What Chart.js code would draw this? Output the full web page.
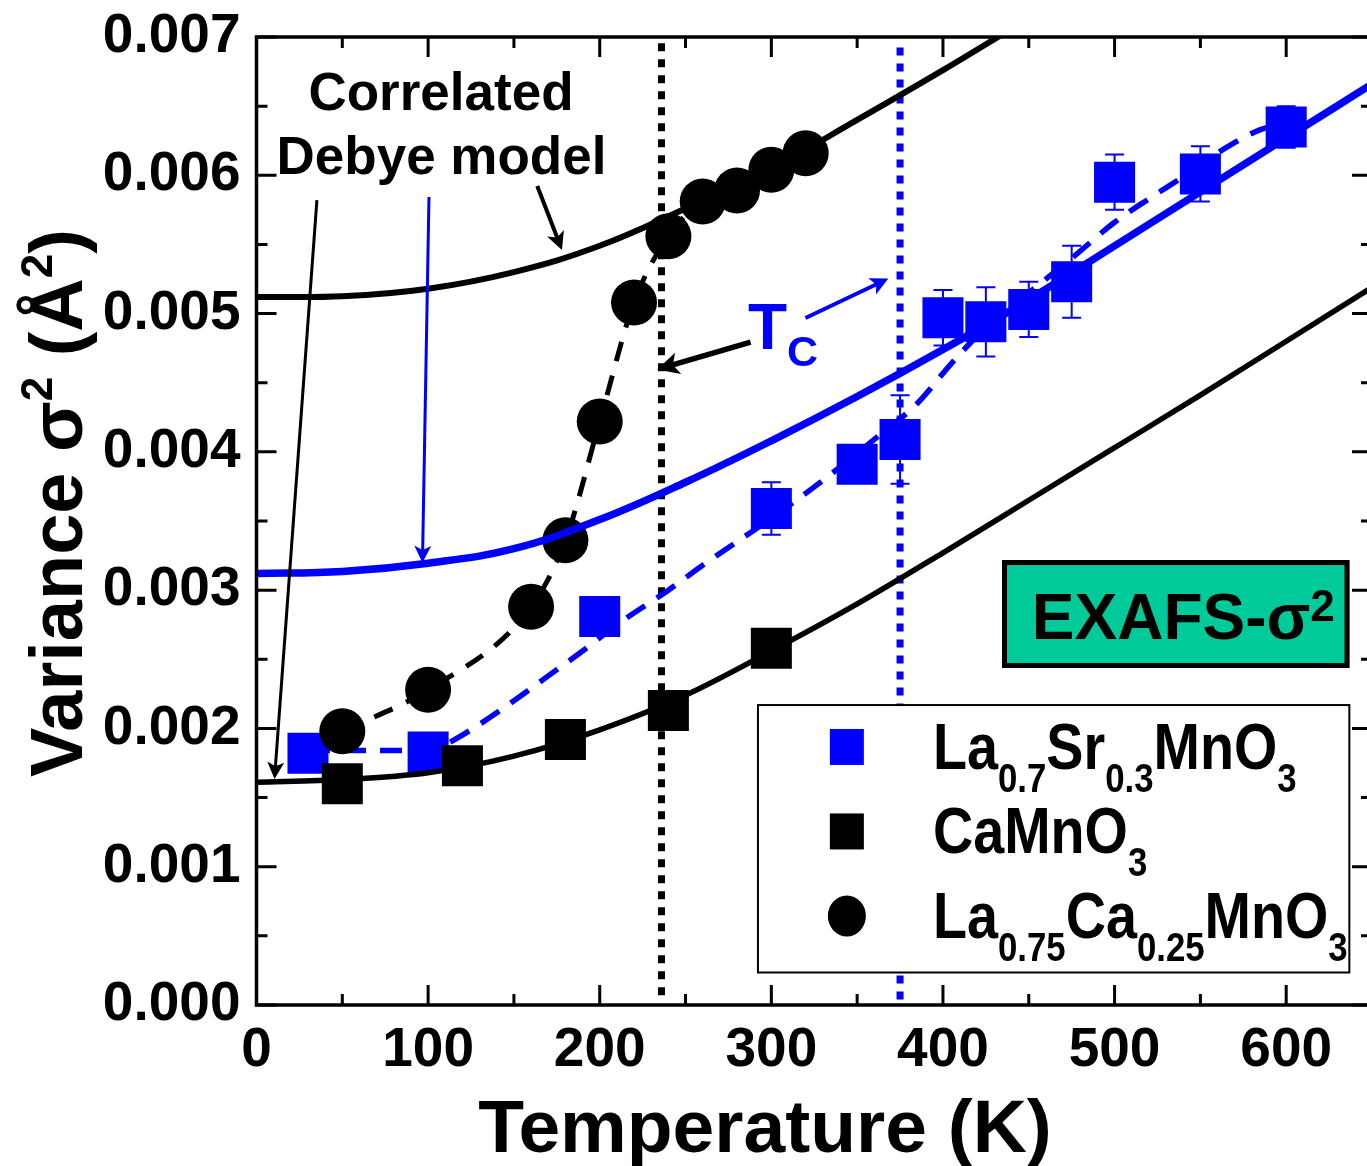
<!DOCTYPE html>
<html lang="en">
<head>
<meta charset="UTF-8">
<title>EXAFS variance vs temperature</title>
<script src="https://cdn.jsdelivr.net/npm/chart.js"></script>
<style>
  html, body { margin: 0; padding: 0; background: #fff; }
  #wrap { width: 1367px; height: 1166px; }
</style>
</head>
<body>
<div id="wrap"><canvas id="sigmaChart" width="1367" height="1166"></canvas></div>
<script>
// La0.7Sr0.3MnO3 : blue squares with error bars
const lsmoTemp  = [30, 100, 200, 300, 350, 375, 400, 425, 450, 475, 500, 550, 600];
const lsmoSigma = [0.00182, 0.00183, 0.00281, 0.00359, 0.00391, 0.00409, 0.00497, 0.00494, 0.00503, 0.00523, 0.00595, 0.00601, 0.00635];
const lsmoErr   = [0.0001, 0.0001, 0.0001, 0.00019, 0.00012, 0.00032, 0.0002, 0.00025, 0.0002, 0.00026, 0.0002, 0.0002, 0.00015];

// CaMnO3 : black squares
const cmoTemp  = [50, 120, 180, 240, 300];
const cmoSigma = [0.0016, 0.00173, 0.00192, 0.00213, 0.00258];

// La0.75Ca0.25MnO3 : black circles
const lcmoTemp  = [50, 100, 160, 180, 200, 220, 240, 260, 280, 300, 320];
const lcmoSigma = [0.00198, 0.00228, 0.00288, 0.00336, 0.00422, 0.00508, 0.00556, 0.00581, 0.00589, 0.00604, 0.00616];

// correlated Debye model curves
const fitTemp     = [0, 50, 100, 150, 200, 250, 300, 350, 400, 450, 500, 550, 600, 650];
const lsmoFit     = [0.00312, 0.003135, 0.003195, 0.0033, 0.00351, 0.00378, 0.00408, 0.0044, 0.00474, 0.0051, 0.00549, 0.00588, 0.00627, 0.00666];
const cmoFit      = [0.00161, 0.00163, 0.00168, 0.0018, 0.00199, 0.00224, 0.00256, 0.0029, 0.00327, 0.00365, 0.00403, 0.00441, 0.0048, 0.00519];
const lcmoFitTemp = [0, 50, 100, 150, 200, 250, 300, 350, 400, 440];
const lcmoFit     = [0.00512, 0.005125, 0.00518, 0.0053, 0.00549, 0.00576, 0.00605, 0.0064, 0.00676, 0.00706];

// dashed guide to the eye through the LSMO points
const guideTemp  = [30, 100, 111, 130, 150, 170, 190, 210, 240, 260, 280, 300, 320, 340, 360, 385, 405, 425, 450, 475, 500, 520, 540, 565, 585, 600];
const guideSigma = [0.00184, 0.00184, 0.00189, 0.00203, 0.0022, 0.00238, 0.00256, 0.00275, 0.003, 0.00318, 0.00335, 0.00352, 0.0037, 0.00389, 0.00409, 0.00435, 0.00464, 0.0049, 0.00515, 0.0054, 0.00566, 0.00583, 0.00599, 0.0062, 0.00633, 0.00638];

// Curie temperatures (dotted verticals)
const tcLcmo = 236;
const tcLsmo = 375;
const tcLcmoSpan = [0.00007, 0.00696];
const tcLsmoSpan = [0.00004, 0.00693];

const BLUE = '#0000ff';
const FONT = "'Liberation Sans', Arial, sans-serif";
const bold = s => `bold ${s}px ${FONT}`;
const xy = (xs, ys) => xs.map((x, i) => ({ x, y: ys[i] }));

// plot frame in canvas pixels (right edge runs just past the canvas)
const frame = { left: 256.5, right: 1372, top: 37, bottom: 1005 };

// annotation anchors, in data units (K, A^2)
const arrows = [
  { from: [35.2, 0.00582],   to: [10.5, 0.001634], color: '#000', width: 3,   head: 17 },
  { from: [100.5, 0.005843], to: [96.7, 0.003198], color: BLUE,  width: 3,   head: 17 },
  { from: [163.6, 0.005922], to: [178, 0.005459],  color: '#000', width: 4,   head: 18 },
  { from: [287.9, 0.004794], to: [233.4, 0.004595], color: '#000', width: 5.5, head: 22 },
  { from: [319.9, 0.004968], to: [368.2, 0.005253], color: BLUE,  width: 4,   head: 18 }
];
const notes = [
  { text: 'Correlated',  at: [107.5, 0.00647],  size: 53, color: '#000', align: 'center' },
  { text: 'Debye model', at: [107.8, 0.00601],  size: 53, color: '#000', align: 'center' },
  { text: 'T',           at: [286.4, 0.004744], size: 64, color: BLUE,  align: 'left' },
  { text: 'C',           at: [309.1, 0.00462],  size: 43, color: BLUE,  align: 'left' }
];
const badge = { left: 434.4, right: 636.9, top: 0.003218, bottom: 0.002437, textAt: [451.8, 0.00265] };
const legendBox = { left: 292.2, right: 636.8, top: 0.002169, bottom: 0.000235, markerT: 344, labelT: 394.2 };
const legendRows = [
  { marker: 'square', color: BLUE,  center: 0.001866, base: 0.001707,
    parts: [['La', 0], ['0.7', 1], ['Sr', 0], ['0.3', 1], ['MnO', 0], ['3', 1]] },
  { marker: 'square', color: '#000', center: 0.001255, base: 0.001099,
    parts: [['CaMnO', 0], ['3', 1]] },
  { marker: 'circle', color: '#000', center: 0.000644, base: 0.000484,
    parts: [['La', 0], ['0.75', 1], ['Ca', 0], ['0.25', 1], ['MnO', 0], ['3', 1]] }
];

function arrow(ctx, x1, y1, x2, y2, width, head) {
  const a = Math.atan2(y2 - y1, x2 - x1), c = Math.cos(a), s = Math.sin(a);
  const bx = x2 - head * c, by = y2 - head * s;
  const hw = head * 0.5;
  ctx.lineWidth = width;
  ctx.beginPath();
  ctx.moveTo(x1, y1);
  ctx.lineTo(bx + head * 0.3 * c, by + head * 0.3 * s);
  ctx.stroke();
  ctx.beginPath();
  ctx.moveTo(x2, y2);
  ctx.lineTo(bx - hw * s, by + hw * c);
  ctx.lineTo(bx + head * 0.25 * c, by + head * 0.25 * s);
  ctx.lineTo(bx + hw * s, by - hw * c);
  ctx.closePath();
  ctx.fill();
}

// chemical formula with subscripts, slightly condensed
function formula(ctx, x, y, parts, size, subSize, squeeze) {
  ctx.save();
  ctx.translate(x, y);
  ctx.scale(squeeze, 1);
  ctx.textAlign = 'left';
  ctx.textBaseline = 'alphabetic';
  let cx = 0;
  parts.forEach(([txt, sub]) => {
    ctx.font = bold(sub ? subSize : size);
    ctx.fillText(txt, cx, sub ? 23 : 0);
    cx += ctx.measureText(txt).width;
  });
  ctx.restore();
}

const decorations = {
  id: 'decorations',
  afterLayout(chart) {
    // pin the plot area so the axes line up with the frame
    const ca = chart.chartArea;
    Object.assign(ca, frame, { width: frame.right - frame.left, height: frame.bottom - frame.top });
    const { x, y } = chart.scales;
    Object.assign(x, { left: frame.left, right: frame.right, width: frame.right - frame.left,
                       top: frame.bottom, bottom: chart.height, height: chart.height - frame.bottom });
    Object.assign(y, { left: 0, right: frame.left, width: frame.left,
                       top: frame.top, bottom: frame.bottom, height: frame.bottom - frame.top });
    x.configure();
    y.configure();
  },
  beforeDatasetsDraw(chart) {
    // error bars for La0.7Sr0.3MnO3
    const { ctx, scales: { x, y } } = chart;
    ctx.save();
    ctx.strokeStyle = BLUE;
    ctx.lineWidth = 2;
    lsmoTemp.forEach((t, i) => {
      const px = x.getPixelForValue(t);
      const hi = y.getPixelForValue(lsmoSigma[i] + lsmoErr[i]);
      const lo = y.getPixelForValue(lsmoSigma[i] - lsmoErr[i]);
      ctx.beginPath();
      ctx.moveTo(px, hi); ctx.lineTo(px, lo);
      ctx.moveTo(px - 9.5, hi); ctx.lineTo(px + 9.5, hi);
      ctx.moveTo(px - 9.5, lo); ctx.lineTo(px + 9.5, lo);
      ctx.stroke();
    });
    ctx.restore();
  },
  afterDatasetsDraw(chart) {
    const { ctx, chartArea: ca, scales: { x, y } } = chart;
    const X = v => x.getPixelForValue(v);
    const Y = v => y.getPixelForValue(v);
    ctx.save();

    // frame with inward ticks on all four sides
    ctx.strokeStyle = '#000';
    ctx.lineWidth = 3.5;
    ctx.strokeRect(ca.left, ca.top, ca.right - ca.left, ca.bottom - ca.top);
    ctx.lineWidth = 3;
    ctx.beginPath();
    for (let t = 0; t <= 650; t += 50) {
      const len = t % 100 === 0 ? 20 : 11;
      ctx.moveTo(X(t), ca.bottom); ctx.lineTo(X(t), ca.bottom - len);
      ctx.moveTo(X(t), ca.top); ctx.lineTo(X(t), ca.top + len);
    }
    for (let k = 0; k <= 14; k++) {
      const v = k * 0.0005;
      const len = k % 2 === 0 ? 20 : 11;
      ctx.moveTo(ca.left, Y(v)); ctx.lineTo(ca.left + len, Y(v));
      ctx.moveTo(ca.right, Y(v)); ctx.lineTo(ca.right - len, Y(v));
    }
    ctx.stroke();

    // arrows
    arrows.forEach(a => {
      ctx.strokeStyle = a.color;
      ctx.fillStyle = a.color;
      arrow(ctx, X(a.from[0]), Y(a.from[1]), X(a.to[0]), Y(a.to[1]), a.width, a.head);
    });

    // text notes
    ctx.textBaseline = 'alphabetic';
    notes.forEach(n => {
      ctx.font = bold(n.size);
      ctx.fillStyle = n.color;
      ctx.textAlign = n.align;
      ctx.fillText(n.text, X(n.at[0]), Y(n.at[1]));
    });

    // EXAFS badge
    const bl = X(badge.left), br = X(badge.right), bt = Y(badge.top), bb = Y(badge.bottom);
    ctx.fillStyle = '#00c99a';
    ctx.fillRect(bl, bt, br - bl, bb - bt);
    ctx.strokeStyle = '#000';
    ctx.lineWidth = 5;
    ctx.strokeRect(bl + 2.5, bt + 2.5, br - bl - 5, bb - bt - 5);
    ctx.fillStyle = '#000';
    ctx.textAlign = 'left';
    ctx.font = bold(64);
    let tx = X(badge.textAt[0]);
    const ty = Y(badge.textAt[1]);
    ctx.fillText('EXAFS-σ', tx, ty);
    tx += ctx.measureText('EXAFS-σ').width;
    ctx.font = bold(44);
    ctx.fillText('2', tx, ty - 18);

    // legend
    const ll = X(legendBox.left), lr = X(legendBox.right), lt = Y(legendBox.top), lb = Y(legendBox.bottom);
    ctx.fillStyle = '#fff';
    ctx.fillRect(ll, lt, lr - ll, lb - lt);
    ctx.strokeStyle = '#000';
    ctx.lineWidth = 2;
    ctx.strokeRect(ll, lt, lr - ll, lb - lt);
    legendRows.forEach(r => {
      const mx = X(legendBox.markerT), my = Y(r.center);
      ctx.fillStyle = r.color;
      if (r.marker === 'square') {
        ctx.fillRect(mx - 17, my - 18, 34, 36);
      } else {
        ctx.beginPath();
        ctx.ellipse(mx, my, 19, 20.5, 0, 0, Math.PI * 2);
        ctx.fill();
      }
      ctx.fillStyle = '#000';
      formula(ctx, X(legendBox.labelT), Y(r.base), r.parts, 64, 40, 0.87);
    });

    // axis titles
    ctx.fillStyle = '#000';
    ctx.textAlign = 'center';
    ctx.font = bold(75);
    ctx.fillText('Temperature (K)', X(296.3), chart.height - 14);

    ctx.save();
    ctx.translate(82, 777);
    ctx.rotate(-Math.PI / 2);
    ctx.textAlign = 'left';
    let cx = 0;
    [['Variance σ', 74, 0], ['2', 44, -30], [' (Å', 74, 0], ['2', 44, -30], [')', 74, 0]].forEach(([s, size, dy]) => {
      ctx.font = bold(size);
      ctx.fillText(s, cx, dy);
      cx += ctx.measureText(s).width;
    });
    ctx.restore();

    ctx.restore();
  }
};

const line = (data, color, width, extra) => Object.assign({
  data, showLine: true, borderColor: color, backgroundColor: color,
  borderWidth: width, pointRadius: 0, clip: 0
}, extra);

new Chart(document.getElementById('sigmaChart'), {
  type: 'scatter',
  data: {
    datasets: [
      line(xy(fitTemp, lsmoFit), BLUE, 7.5, { label: 'LSMO model', tension: 0.4 }),
      line(xy(lcmoFitTemp, lcmoFit), '#000', 6, { label: 'LCMO model', tension: 0.4 }),
      line(xy(fitTemp, cmoFit), '#000', 5.5, { label: 'CaMnO3 model', cubicInterpolationMode: 'monotone' }),
      line(xy(lcmoTemp, lcmoSigma), '#000', 5, {
        label: 'La0.75Ca0.25MnO3', borderDash: [20, 15], cubicInterpolationMode: 'monotone',
        pointStyle: 'circle', pointRadius: 23, pointBorderWidth: 0, pointBackgroundColor: '#000'
      }),
      {
        label: 'CaMnO3', data: xy(cmoTemp, cmoSigma), showLine: false,
        pointStyle: 'rect', pointRadius: 29, borderWidth: 0, backgroundColor: '#000', borderColor: '#000'
      },
      {
        label: 'La0.7Sr0.3MnO3', data: xy(lsmoTemp, lsmoSigma), showLine: false,
        pointStyle: 'rect', pointRadius: 29, borderWidth: 0, backgroundColor: BLUE, borderColor: BLUE
      },
      line(xy(guideTemp, guideSigma), BLUE, 5.5, { label: 'LSMO guide', borderDash: [22, 14], cubicInterpolationMode: 'monotone' }),
      line(xy([tcLcmo, tcLcmo], tcLcmoSpan), '#000', 7, { label: 'Tc LCMO', borderDash: [8, 8] }),
      line(xy([tcLsmo, tcLsmo], tcLsmoSpan), BLUE, 7, { label: 'Tc LSMO', borderDash: [8, 8] })
    ]
  },
  options: {
    responsive: false,
    devicePixelRatio: 1,
    animation: false,
    plugins: { legend: { display: false }, tooltip: { enabled: false } },
    scales: {
      x: {
        type: 'linear', min: 0, max: 650,
        grid: { display: false, drawTicks: false },
        border: { display: false },
        ticks: {
          stepSize: 100, includeBounds: false, padding: 13, color: '#000', maxRotation: 0,
          font: { family: FONT, size: 55, weight: 'bold' }
        }
      },
      y: {
        type: 'linear', min: 0, max: 0.007,
        grid: { display: false, drawTicks: false },
        border: { display: false },
        ticks: {
          stepSize: 0.001, includeBounds: false, padding: 16, color: '#000',
          font: { family: FONT, size: 55, weight: 'bold' },
          callback: v => v.toFixed(3)
        }
      }
    }
  },
  plugins: [decorations]
});
</script>
</body>
</html>
